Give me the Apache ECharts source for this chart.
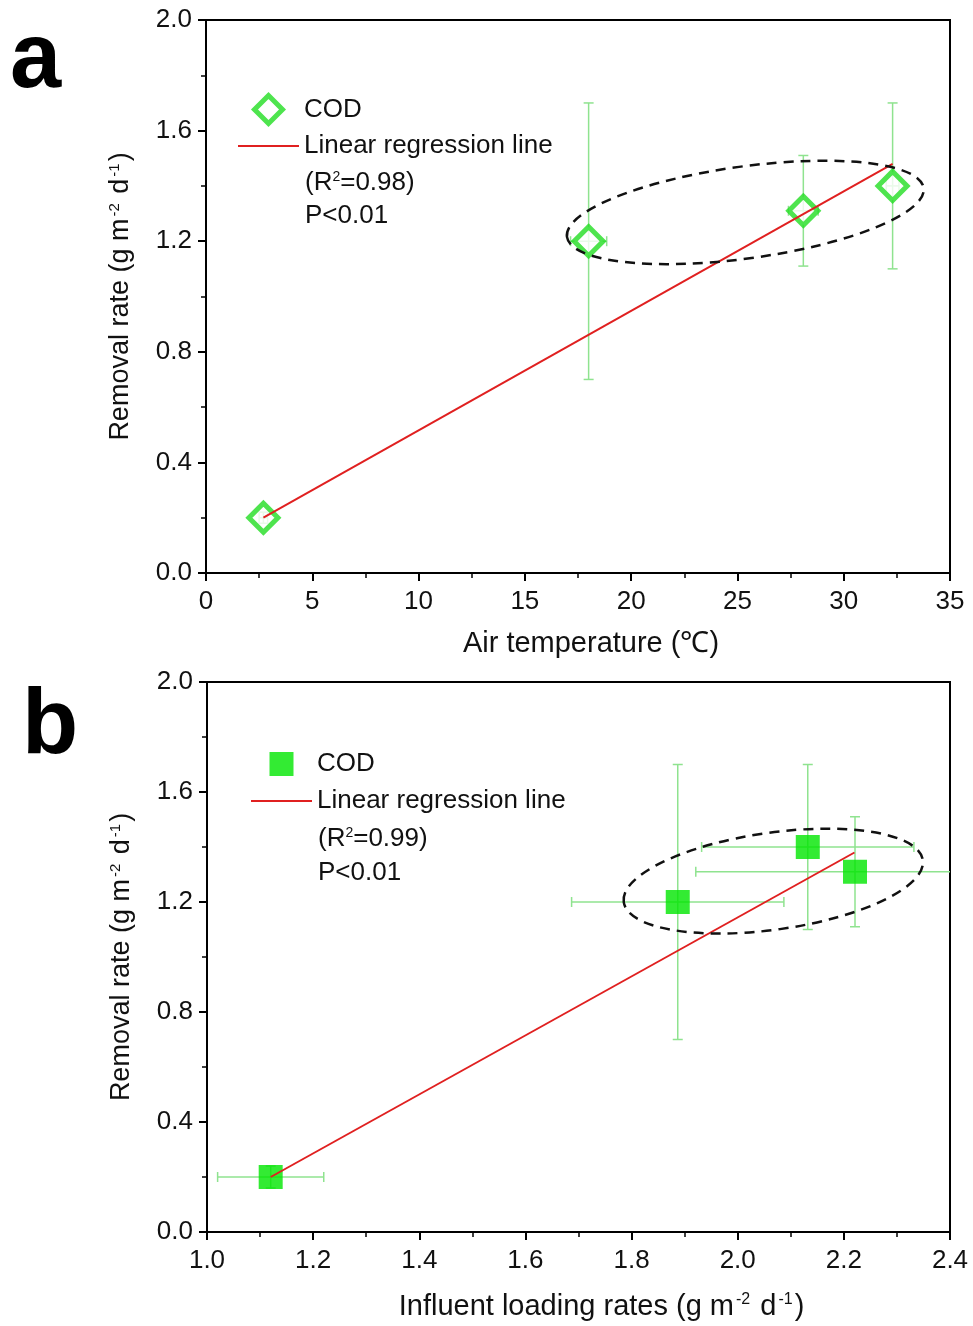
<!DOCTYPE html>
<html>
<head>
<meta charset="utf-8">
<script src="https://cdn.jsdelivr.net/npm/echarts@6/dist/echarts.min.js"></script>
<style>
html,body{margin:0;padding:0;background:#fff;}
#main{width:973px;height:1326px;}
</style>
</head>
<body>
<div id="main"></div>
<script>
// panel a : air temperature vs COD removal
var tempX = [2.7, 18.0, 28.1, 32.3];
var tempY = [0.20, 1.20, 1.31, 1.40];
var tempXErr = [0.2, 0.85, 0.7, 0.3];
var tempYErr = [0.02, 0.50, 0.20, 0.30];
var tempFit = [[2.7, 0.20], [32.3, 1.48]];

// panel b : influent loading rate vs COD removal
var loadX = [1.12, 1.887, 2.132, 2.221];
var loadY = [0.20, 1.20, 1.40, 1.31];
var loadXErr = [0.10, 0.20, 0.20, 0.30];
var loadYErr = [0.04, 0.50, 0.30, 0.20];
var loadFit = [[1.12, 0.20], [2.22, 1.38]];

var font = 'Liberation Sans, Arial, Helvetica, sans-serif';
var green = '#22dd22';
var lime = '#00e600';
var red = '#e02020';
var errColor = '#8fe38f';
// legend icons as paths so they keep their aspect inside the 61px slot
var lineIcon = 'path://M0,0 L100,0 L100,3 L0,3 Z';
var diamondIcon = 'path://M50,0 L100,50 L50,100 L0,50 Z';
var squareIcon = 'path://M0,0 L100,0 L100,100 L0,100 Z';

var names = {
	'codA': 'COD', 'fitA': 'Linear regression line',
	'codB': 'COD', 'fitB': 'Linear regression line'
};

function pairs(xs, ys) {
	return xs.map(function (x, i) { return [x, ys[i]]; });
}

// error bars drawn through the axes (custom series)
function errorBars(xs, ys, xe, ye, idx) {
	var data = xs.map(function (x, i) {
		return [x, ys[i], x - xe[i], x + xe[i], ys[i] - ye[i], ys[i] + ye[i]];
	});
	return {
		type: 'custom',
		xAxisIndex: idx,
		yAxisIndex: idx,
		silent: true,
		clip: true,
		z: 1,
		encode: { x: 0, y: 1 },
		data: data,
		renderItem: function (params, api) {
			var c = api.coord([api.value(0), api.value(1)]);
			var xl = api.coord([api.value(2), api.value(1)])[0];
			var xh = api.coord([api.value(3), api.value(1)])[0];
			var yl = api.coord([api.value(0), api.value(4)])[1];
			var yh = api.coord([api.value(0), api.value(5)])[1];
			var cap = 5;
			var st = { stroke: errColor, lineWidth: 1.5 };
			return {
				type: 'group',
				children: [
					{ type: 'line', shape: { x1: xl, y1: c[1], x2: xh, y2: c[1] }, style: st },
					{ type: 'line', shape: { x1: xl, y1: c[1] - cap, x2: xl, y2: c[1] + cap }, style: st },
					{ type: 'line', shape: { x1: xh, y1: c[1] - cap, x2: xh, y2: c[1] + cap }, style: st },
					{ type: 'line', shape: { x1: c[0], y1: yl, x2: c[0], y2: yh }, style: st },
					{ type: 'line', shape: { x1: c[0] - cap, y1: yl, x2: c[0] + cap, y2: yl }, style: st },
					{ type: 'line', shape: { x1: c[0] - cap, y1: yh, x2: c[0] + cap, y2: yh }, style: st }
				]
			};
		}
	};
}

// dashed ellipse around the warm / high load group
function ring(center, rx, ry, deg, idx) {
	return {
		type: 'custom',
		xAxisIndex: idx,
		yAxisIndex: idx,
		silent: true,
		z: 4,
		data: [center],
		renderItem: function (params, api) {
			var c = api.coord([api.value(0), api.value(1)]);
			return {
				type: 'ellipse',
				x: c[0],
				y: c[1],
				rotation: deg * Math.PI / 180,
				shape: { cx: 0, cy: 0, rx: rx, ry: ry },
				style: { fill: 'none', stroke: '#111', lineWidth: 2.5, lineDash: [10, 7] }
			};
		}
	};
}

function richOf(size, supSize) {
	return {
		t: { fontSize: size, fontFamily: font, color: '#111' },
		sup: { fontSize: supSize, fontFamily: font, color: '#111', verticalAlign: 'top', padding: [0, 2, 10, 2] }
	};
}

function xAxisOf(idx, min, max, step, title, dec, gap, shift) {
	return {
		gridIndex: idx,
		type: 'value',
		min: min, max: max, interval: step,
		name: title,
		nameLocation: 'middle',
		nameGap: gap,
		nameTextStyle: {
			fontSize: 29, fontFamily: font, color: '#111',
			padding: [0, 0, 0, shift], rich: richOf(29, 16)
		},
		axisLine: { onZero: false, lineStyle: { color: '#000', width: 2 } },
		axisTick: { length: 8, lineStyle: { color: '#000', width: 2 } },
		minorTick: { show: true, splitNumber: 2, length: 5, lineStyle: { color: '#000', width: 1.5 } },
		splitLine: { show: false },
		axisLabel: {
			margin: 16, fontSize: 26, fontFamily: font, color: '#111',
			formatter: function (v) { return v.toFixed(dec); }
		}
	};
}

function yAxisOf(idx) {
	return {
		gridIndex: idx,
		type: 'value',
		min: 0, max: 2.0, interval: 0.4,
		name: '{t|Removal rate (g m}{sup|-2}{t| d}{sup|-1}{t|)}',
		nameLocation: 'middle',
		nameGap: 72,
		nameTextStyle: { rich: richOf(27, 15) },
		axisLine: { onZero: false, lineStyle: { color: '#000', width: 2 } },
		axisTick: { length: 8, lineStyle: { color: '#000', width: 2 } },
		minorTick: { show: true, splitNumber: 2, length: 5, lineStyle: { color: '#000', width: 1.5 } },
		splitLine: { show: false },
		axisLabel: {
			margin: 14, fontSize: 26, fontFamily: font, color: '#111',
			formatter: function (v) { return v.toFixed(1); }
		}
	};
}

function textAt(x, y, str) {
	return {
		type: 'text', left: x, top: y,
		style: { text: str, font: '26px ' + font, fill: '#111', rich: {
			t: { fontSize: 26, fontFamily: font },
			sup: { fontSize: 14, fontFamily: font, verticalAlign: 'top' }
		} }
	};
}

function legendOf(left, top, h, gap, codItem, fitName) {
	return {
		orient: 'vertical', left: left, top: top, padding: 0,
		itemWidth: 61, itemHeight: h, itemGap: gap,
		symbolKeepAspect: true,
		textStyle: { fontSize: 26, fontFamily: font, color: '#111' },
		formatter: function (n) { return names[n]; },
		selectedMode: false,
		data: [
			codItem,
			{ name: fitName, icon: lineIcon, itemStyle: { color: red, borderWidth: 0 } }
		]
	};
}

var chart = echarts.init(document.getElementById('main'));

var option = {
	backgroundColor: '#fff',
	animation: false,
	grid: [
		{ left: 206, right: 23, top: 20, height: 553, show: true, borderColor: '#000', borderWidth: 2 },
		{ left: 207, right: 23, top: 682, height: 550, show: true, borderColor: '#000', borderWidth: 2 }
	],
	xAxis: [
		xAxisOf(0, 0, 35, 5, 'Air temperature (℃)', 0, 56, 26),
		xAxisOf(1, 1.0, 2.4, 0.2, '{t|Influent loading rates (g m}{sup|-2}{t| d}{sup|-1}{t|)}', 1, 60, 46)
	],
	yAxis: [yAxisOf(0), yAxisOf(1)],
	legend: [
		legendOf(238, 93, 28, 7,
			{ name: 'codA', icon: diamondIcon, itemStyle: { color: '#fff', borderColor: green, borderWidth: 5 } }, 'fitA'),
		legendOf(251, 751, 24, 11,
			{ name: 'codB', icon: squareIcon, itemStyle: { color: lime, borderWidth: 0 } }, 'fitB')
	],
	graphic: [
		{ type: 'text', left: 10, top: 16, style: { text: 'a', font: 'bold 92px ' + font, fill: '#000' } },
		{ type: 'text', left: 22, top: 682, style: { text: 'b', font: 'bold 92px ' + font, fill: '#000' } },
		textAt(305, 170, '{t|(R}{sup|2}{t|=0.98)}'),
		textAt(305, 203, '{t|P<0.01}'),
		textAt(318, 826, '{t|(R}{sup|2}{t|=0.99)}'),
		textAt(318, 860, '{t|P<0.01}')
	],
	series: [
		errorBars(tempX, tempY, tempXErr, tempYErr, 0),
		{
			name: 'codA', type: 'scatter', xAxisIndex: 0, yAxisIndex: 0,
			data: pairs(tempX, tempY), symbol: 'diamond', symbolSize: 29, z: 2,
			itemStyle: { color: '#fff', borderColor: green, borderWidth: 5 }
		},
		{
			name: 'fitA', type: 'line', xAxisIndex: 0, yAxisIndex: 0,
			data: tempFit, symbol: 'none', showSymbol: false, z: 3,
			lineStyle: { color: red, width: 2 }
		},
		ring([25.37, 1.304], 180, 46, 7.8, 0),

		errorBars(loadX, loadY, loadXErr, loadYErr, 1),
		{
			name: 'codB', type: 'scatter', xAxisIndex: 1, yAxisIndex: 1,
			data: pairs(loadX, loadY), symbol: 'rect', symbolSize: 24, z: 2,
			itemStyle: { color: lime }
		},
		{
			name: 'fitB', type: 'line', xAxisIndex: 1, yAxisIndex: 1,
			data: loadFit, symbol: 'none', showSymbol: false, z: 3,
			lineStyle: { color: red, width: 2 }
		},
		ring([2.067, 1.276], 151, 48.5, 8, 1)
	]
};

chart.setOption(option);
</script>
</body>
</html>
